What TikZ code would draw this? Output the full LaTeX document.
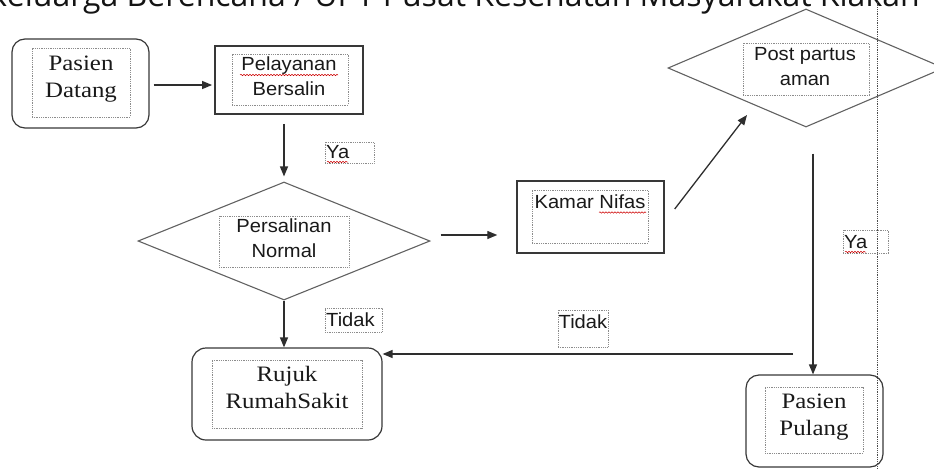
\documentclass[tikz,border=0pt]{standalone}
\usepackage{fontspec}
\setmainfont{Liberation Serif}
\newfontfamily\tnr[FakeStretch=1.13]{Liberation Serif}
\newfontfamily\arl[FakeStretch=1.06]{Liberation Sans}
\newfontfamily\osans{Open Sans}
\usetikzlibrary{arrows.meta,calc,shapes.geometric,decorations.pathmorphing}
\begin{document}
\begin{tikzpicture}[x=1pt,y=-1pt,
 lc/.style={draw=black!78, line width=1.2pt},
 arr/.style={draw=black!82, line width=1.3pt, -{Triangle[length=10pt,width=8pt]}},
 rbox/.style={lc, rounded corners=13pt, inner sep=0pt},
 sbox/.style={lc, inner sep=0pt},
 dbox/.style={draw=black!45, densely dotted, line width=0.8pt, inner sep=0pt},
 dia/.style={draw=black!62, line width=1.1pt, shape=diamond, inner sep=0pt},
 serift/.style={font=\tnr\fontsize{22}{27}\selectfont, align=center, inner sep=0pt, text=black!90, anchor=base},
 sanst/.style={font=\arl\fontsize{19}{24.5}\selectfont, align=center, inner sep=0pt, text=black!90, anchor=base},
 lblt/.style={font=\arl\fontsize{19}{24}\selectfont, inner sep=0pt, text=black!90, anchor=base west},
 spell/.style={draw=red!80!black, line width=0.5pt, decorate, decoration={snake, amplitude=0.7pt, segment length=3pt}},
 guide/.style={draw=black!70, densely dotted, line width=0.8pt}
]
\useasboundingbox (0,0) rectangle (934,469);
\clip (0,0) rectangle (934,469);

% title (cropped at top)
\node[font=\osans\fontsize{32}{38}\selectfont, anchor=base east, inner sep=0pt, text=black!92] (title) at (920,6) {Keluarga Berencana / UPT Pusat Kesehatan Masyarakat Klakah};

% Pasien Datang
\node[rbox, minimum width=137pt, minimum height=89pt] (pd) at (80.5,83.5) {};
\node[dbox, minimum width=98pt, minimum height=69pt] (pdi) at (81,82.5) {};
\node[serift] (pdt) at (81,97) {Pasien\\Datang};

% Pelayanan Bersalin
\node[sbox, line width=1.8pt, minimum width=148pt, minimum height=68pt] (pb) at (289,80) {};
\node[dbox, minimum width=116pt, minimum height=51pt] (pbi) at (290,79.5) {};
\node[sanst] (pbt) at (289,95) {Pelayanan\\Bersalin};
\coordinate (pbs1) at (240,75);
\coordinate (pbs2) at (338,75);
\draw[spell] (pbs1) -- (pbs2);

% Persalinan Normal
\node[dia, minimum width=292pt, minimum height=118pt] (pn) at (284,241) {};
\node[dbox, minimum width=130pt, minimum height=51pt] (pni) at (284,241.5) {};
\node[sanst] (pnt) at (284,257) {Persalinan\\Normal};

% Kamar Nifas
\node[sbox, line width=1.4pt, minimum width=147pt, minimum height=72pt] (kn) at (590.5,217) {};
\node[dbox, minimum width=116pt, minimum height=53pt] (kni) at (590,216.5) {};
\node[sanst] (knt) at (590,208) {Kamar Nifas};
\coordinate (kns1) at (599,212.5);
\coordinate (kns2) at (646,212.5);
\draw[spell] (kns1) -- (kns2);

% Post partus aman
\node[dia, minimum width=276pt, minimum height=118pt] (pp) at (806,68) {};
\node[dbox, minimum width=126pt, minimum height=52pt] (ppi) at (806,69) {};
\node[sanst] (ppt) at (805,85) {Post partus\\aman};

% Rujuk RumahSakit
\node[rbox, rounded corners=14pt, minimum width=190pt, minimum height=92pt] (rs) at (287,394) {};
\node[dbox, minimum width=150pt, minimum height=68pt] (rsi) at (287,394) {};
\node[serift] (rst) at (287,408) {Rujuk\\RumahSakit};

% Pasien Pulang
\node[rbox, minimum width=137pt, minimum height=92pt] (ppl) at (814.5,421) {};
\node[dbox, minimum width=98pt, minimum height=66pt] (ppli) at (814,420) {};
\node[serift] (pplt) at (814,435) {Pasien\\Pulang};

% labels
\node[dbox, minimum width=49pt, minimum height=21pt] (ya1) at (349.5,152.5) {};
\node[lblt] (ya1t) at (326,158) {Ya};
\coordinate (ya1s1) at (327,162);
\coordinate (ya1s2) at (348,162);
\draw[spell] (ya1s1) -- (ya1s2);

\node[dbox, minimum width=45pt, minimum height=23pt] (ya2) at (865.5,241.5) {};
\node[lblt] (ya2t) at (844,248) {Ya};
\coordinate (ya2s1) at (845,252);
\coordinate (ya2s2) at (866,252);
\draw[spell] (ya2s1) -- (ya2s2);

\node[dbox, minimum width=57pt, minimum height=24pt] (td1) at (353.5,320) {};
\node[lblt] (td1t) at (326,326) {Tidak};

\node[dbox, minimum width=50pt, minimum height=37pt] (td2) at (583,328.5) {};
\node[lblt] (td2t) at (558.5,328) {Tidak};

% page guide line
\coordinate (g1) at (877,0);
\coordinate (g2) at (877,469);
\draw[guide] (g1) -- (g2);

% connectors
\draw[arr] ($(pd.east)+(4,1.5)$) -- ($(pb.west)+(-2,5)$);
\coordinate (pba) at ($(pb.south)+(-5,9)$);
\draw[arr] (pba) -- ($(pn.north)+(0,-5)$);
\draw[arr] ($(pn.east)+(10,-6)$) -- ($(kn.west)+(-19,18)$);
\draw[arr] ($(kn.east)+(10,-8)$) -- ($(pp.center)+(-59,47)$);
\coordinate (ppa) at ($(pp.south)+(7,26)$);
\draw[arr] (ppa) -- (ppa |- ppl.north);
\draw[arr] (pn.south) -- (pn.south |- rs.north);
\coordinate (tb) at (793,354);
\draw[arr] (tb) -- (tb -| rs.east);
\end{tikzpicture}
\end{document}
